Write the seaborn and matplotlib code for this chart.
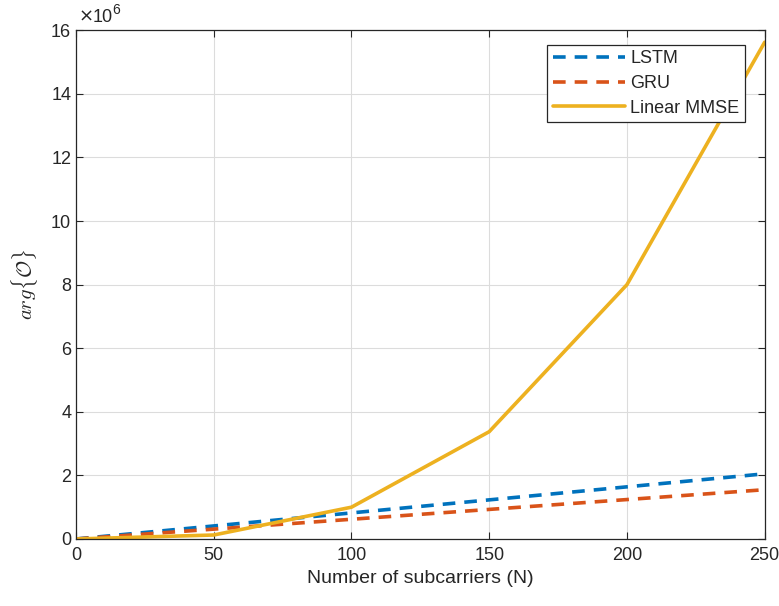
import matplotlib
matplotlib.use("Agg")
import matplotlib.pyplot as plt
import seaborn as sns
from matplotlib.ticker import FuncFormatter

# Werte
subcarriers = [0, 50, 100, 150, 200, 250]
lstm = [0.0, 0.41e6, 0.82e6, 1.23e6, 1.64e6, 2.05e6]
gru = [0.0, 0.31e6, 0.62e6, 0.93e6, 1.24e6, 1.55e6]
linear_mmse = [0.0, 0.125e6, 1.0e6, 3.375e6, 8.0e6, 15.625e6]

sns.set_theme(style="whitegrid")
plt.rcParams["font.family"] = ["Liberation Sans", "DejaVu Sans"]
plt.rcParams["mathtext.fontset"] = "cm"

fig = plt.figure(figsize=(7.79, 6.06), dpi=100)
ax = fig.add_axes([0.0976, 0.1106, 0.884, 0.8394])

tick_color = "#262626"
sns.lineplot(x=subcarriers, y=lstm, ax=ax, color="#0072BD", lw=2.6,
             linestyle=(0, (3.5, 2.5)), label="LSTM")
sns.lineplot(x=subcarriers, y=gru, ax=ax, color="#D95319", lw=2.6,
             linestyle=(0, (3.5, 2.5)), label="GRU")
sns.lineplot(x=subcarriers, y=linear_mmse, ax=ax, color="#EDB120", lw=2.6,
             label="Linear MMSE")

ax.set_xlim(0, 250)
ax.set_ylim(0, 16e6)
ax.set_xticks(range(0, 251, 50))
ax.set_yticks([i * 2e6 for i in range(9)])
ax.yaxis.set_major_formatter(FuncFormatter(lambda v, p: f"{v / 1e6:g}"))

# Exponent oben links, wie in MATLAB
ax.annotate("×", xy=(0, 1), xycoords="axes fraction", xytext=(2, 6),
            textcoords="offset points", fontsize=13, color=tick_color,
            family="DejaVu Sans", ha="left", va="baseline")
ax.annotate("10", xy=(0, 1), xycoords="axes fraction", xytext=(12, 6),
            textcoords="offset points", fontsize=13, color=tick_color,
            ha="left", va="baseline")
ax.annotate("6", xy=(0, 1), xycoords="axes fraction", xytext=(26, 12),
            textcoords="offset points", fontsize=10, color=tick_color,
            ha="left", va="baseline")

ax.set_facecolor("white")
ax.grid(True, color="#dcdcdc", lw=0.8)
for s in ax.spines.values():
    s.set_color("#262626")
    s.set_linewidth(0.9)

ax.tick_params(axis="both", labelsize=13, colors=tick_color, direction="in",
               length=5, width=0.8, left=True, bottom=True, right=True, top=True)
ax.tick_params(axis="x", pad=6)
ax.set_xlabel("Number of subcarriers (N)", fontsize=14, color=tick_color)
ax.set_ylabel(r"$arg\{\mathcal{O}\}$", fontsize=15, color=tick_color, labelpad=8)

leg = ax.legend(loc="upper right", bbox_to_anchor=(0.971, 0.971), fontsize=13,
                frameon=True, fancybox=False, framealpha=1, borderpad=0.3,
                handlelength=4.0, labelspacing=0.42, handletextpad=0.3,
                borderaxespad=0.0)
leg.get_frame().set_edgecolor("#262626")
leg.get_frame().set_linewidth(0.9)

fig.savefig("out.png", dpi=100)
